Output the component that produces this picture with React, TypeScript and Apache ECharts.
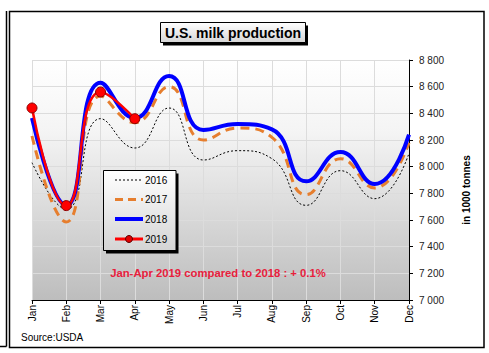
import React, { useEffect, useRef } from "react";
import * as echarts from "echarts";

const months = ["Jan", "Feb", "Mar", "Apr", "May", "Jun", "Jul", "Aug", "Sep", "Oct", "Nov", "Dec"];
const prod2016 = [8030, 7680, 8360, 8140, 8440, 8050, 8120, 8060, 7710, 7970, 7760, 8100];
const prod2017 = [8230, 7585, 8530, 8330, 8600, 8200, 8290, 8220, 7790, 8060, 7840, 8180];
const prod2018 = [8365, 7710, 8630, 8365, 8680, 8275, 8320, 8280, 7890, 8110, 7870, 8240];
const prod2019 = [8440, 7708, 8560, 8360];
const seriesNames = ["2016", "2017", "2018", "2019"];
const titleText = "U.S. milk production";
const noteText = "Jan-Apr 2019 compared to 2018 : + 0.1%";
const sourceText = "Source:USDA";
const unitText = "in 1000 tonnes";

const FONT = "'Liberation Sans', Arial, sans-serif";

const styles2016 = { color: "#000", width: 1, type: [2, 2] as number[] };
const styles2017 = { color: "#e67e2e", width: 3, type: [9, 6] as number[] };
const styles2018 = { color: "#0000ff", width: 4 };
const styles2019 = { color: "#ff0000", width: 2.5 };

export default function App() {
  const ref = useRef<HTMLDivElement>(null);
  useEffect(() => {
    if (!ref.current) return;
    const chart = echarts.init(ref.current, null, { renderer: "svg" });
    const fmt = (v: number) => {
      const s = String(Math.round(v));
      return s.length > 3 ? s.slice(0, s.length - 3) + " " + s.slice(-3) : s;
    };

    // legend (drawn as graphic elements)
    const legRowsY = [180, 199.5, 219, 239];
    const legX1 = 115;
    const legX2 = 143;
    const legendGraphics: any[] = [];
    const legStyles = [
      { stroke: styles2016.color, lineWidth: 1, lineDash: [2, 2] },
      { stroke: styles2017.color, lineWidth: 3, lineDash: [8, 5] },
      { stroke: styles2018.color, lineWidth: 4 },
      { stroke: styles2019.color, lineWidth: 3 },
    ];
    seriesNames.forEach((name, i) => {
      const y = legRowsY[i];
      legendGraphics.push({
        type: "line",
        shape: { x1: legX1, y1: y, x2: legX2, y2: y },
        style: { ...legStyles[i], fill: "none" },
        z: 11,
      });
      legendGraphics.push({
        type: "text",
        x: legX2 + 2,
        y: y,
        style: { text: name, font: `10px ${FONT}`, fill: "#000", align: "left", verticalAlign: "middle" },
        z: 11,
      });
    });
    legendGraphics.push({
      type: "circle",
      shape: { cx: (legX1 + legX2) / 2, cy: legRowsY[3], r: 3.5 },
      style: { fill: "#e00000", stroke: "#5a0000", lineWidth: 1 },
      z: 12,
    });

    chart.setOption({
      animation: false,
      backgroundColor: "#ffffff",
      textStyle: { fontFamily: FONT },
      grid: {
        left: 32,
        right: 80,
        top: 60,
        bottom: 53,
        show: true,
        borderWidth: 0,
        backgroundColor: new echarts.graphic.LinearGradient(0, 0, 0, 1, [
          { offset: 0, color: "#ffffff" },
          { offset: 0.3, color: "#f4f4f4" },
          { offset: 1, color: "#bdbdbd" },
        ]),
      },
      xAxis: {
        type: "category",
        data: months,
        boundaryGap: false,
        axisLine: { show: true, lineStyle: { color: "#000", width: 1 } },
        axisTick: { show: true, length: 4, lineStyle: { color: "#000" } },
        axisLabel: { rotate: 90, fontSize: 10, color: "#000", margin: 5, interval: 0, fontFamily: FONT },
        splitLine: { show: true, lineStyle: { color: "#dcdcdc", width: 1 } },
      },
      yAxis: {
        type: "value",
        position: "right",
        min: 7000,
        max: 8800,
        interval: 200,
        axisLine: { show: true, lineStyle: { color: "#000", width: 1 } },
        axisTick: { show: true, length: 4, inside: false, lineStyle: { color: "#000" } },
        axisLabel: { fontSize: 10, color: "#222", margin: 10, formatter: fmt, fontFamily: FONT },
        splitLine: { show: true, lineStyle: { color: "#dcdcdc", width: 1 } },
      },
      series: [
        {
          name: "2016",
          type: "line",
          data: prod2016,
          smooth: 0.5,
          symbol: "none",
          lineStyle: styles2016,
          itemStyle: { color: styles2016.color },
          z: 2,
        },
        {
          name: "2017",
          type: "line",
          data: prod2017,
          smooth: 0.5,
          symbol: "none",
          lineStyle: styles2017,
          itemStyle: { color: styles2017.color },
          z: 3,
        },
        {
          name: "2018",
          type: "line",
          data: prod2018,
          smooth: 0.5,
          symbol: "none",
          lineStyle: styles2018,
          itemStyle: { color: styles2018.color },
          z: 4,
        },
        {
          name: "2019",
          type: "line",
          data: prod2019,
          smooth: 0.5,
          symbol: "circle",
          symbolSize: 10,
          lineStyle: styles2019,
          itemStyle: { color: "#ff0000", borderColor: "#8a0000", borderWidth: 1 },
          z: 5,
        },
      ],
      graphic: [
        { type: "line", shape: { x1: 6.5, y1: 11, x2: 6.5, y2: 346.5 }, style: { stroke: "#000", lineWidth: 1.5 } },
        { type: "line", shape: { x1: 0, y1: 346.5, x2: 6.5, y2: 346.5 }, style: { stroke: "#000", lineWidth: 1.5 } },
        { type: "rect", shape: { x: 9.5, y: 11.5, width: 474.5, height: 336 }, style: { fill: "none", stroke: "#000", lineWidth: 1.5 }, z: 0 },
        // title box
        { type: "rect", shape: { x: 163, y: 25.5, width: 145, height: 20 }, style: { fill: "#000" }, z: 20 },
        {
          type: "rect",
          shape: { x: 160.5, y: 22.5, width: 145, height: 20 },
          style: {
            fill: new echarts.graphic.LinearGradient(0, 0, 0, 1, [
              { offset: 0, color: "#ffffff" },
              { offset: 1, color: "#d6d6d6" },
            ]),
            stroke: "#000",
            lineWidth: 1,
          },
          z: 21,
        },
        {
          type: "text",
          x: 233,
          y: 33,
          style: { text: titleText, font: `bold 14px ${FONT}`, fill: "#000", align: "center", verticalAlign: "middle" },
          z: 22,
        },
        // legend box
        { type: "rect", shape: { x: 106, y: 173.5, width: 72.5, height: 80 }, style: { fill: "#000" }, z: 8 },
        {
          type: "rect",
          shape: { x: 103.5, y: 170.5, width: 72.5, height: 80 },
          style: {
            fill: new echarts.graphic.LinearGradient(0, 0, 0, 1, [
              { offset: 0, color: "#ffffff" },
              { offset: 1, color: "#d4d4d4" },
            ]),
            stroke: "#000",
            lineWidth: 1,
          },
          z: 9,
        },
        ...legendGraphics,
        {
          type: "text",
          x: 218,
          y: 273,
          style: { text: noteText, font: `bold 11.3px ${FONT}`, fill: "#e8203c", align: "center", verticalAlign: "middle" },
          z: 10,
        },
        {
          type: "text",
          x: 21,
          y: 337,
          style: { text: sourceText, font: `10px ${FONT}`, fill: "#000", align: "left", verticalAlign: "middle" },
        },
        {
          type: "text",
          x: 466,
          y: 190,
          rotation: Math.PI / 2,
          style: { text: unitText, font: `bold 10px ${FONT}`, fill: "#000", align: "center", verticalAlign: "middle" },
        },
      ],
    });
    return () => chart.dispose();
  }, []);
  return <div ref={ref} style={{ width: 489, height: 353, position: "absolute", left: 0, top: 0 }} />;
}
